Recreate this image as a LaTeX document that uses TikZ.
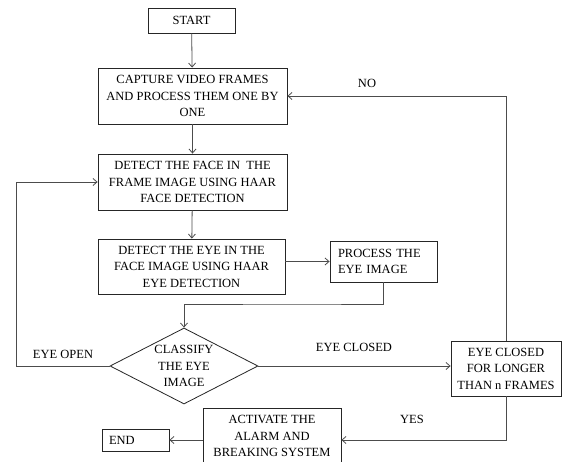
\documentclass[tikz,border=0pt]{standalone}
\usepackage{fontspec}
\setmainfont{Liberation Serif}
\usetikzlibrary{arrows.meta,shapes.geometric}
\begin{document}
\begin{tikzpicture}[x=1pt,y=-1pt,
  every node/.style={font=\fontsize{12.5}{16.5}\selectfont, text=black},
  box/.style={draw=black!85, line width=0.8pt, rectangle, inner sep=0pt, align=center},
  conn/.style={draw=black!70, line width=0.8pt, -{Straight Barb[length=4pt,width=7pt]}},
  lbl/.style={inner sep=0pt}
]
\useasboundingbox (0,0) rectangle (562,462);
\fill[white] (0,0) rectangle (562,462);

\node[box, minimum width=87pt, minimum height=25pt] (start) at (191.5,20.5) {START};
\node[box, minimum width=189pt, minimum height=56pt] (capture) at (192.5,96) {CAPTURE VIDEO FRAMES\\AND PROCESS THEM ONE BY\\ONE};
\node[box, minimum width=189pt, minimum height=56pt] (face) at (192.5,182) {DETECT THE FACE IN \ THE\\FRAME IMAGE USING HAAR\\FACE DETECTION};
\node[box, minimum width=187pt, minimum height=55pt] (eye) at (191.5,266.5) {DETECT THE EYE IN THE\\FACE IMAGE USING HAAR\\EYE DETECTION};
\node[box, minimum height=41pt, text width=91pt, inner xsep=8pt, align=left] (process) at (383.5,261.5) {PROCESS THE\\EYE IMAGE};
\node[draw=black!85, line width=0.8pt, shape=diamond, aspect=1.95, minimum width=148pt, minimum height=76pt, inner sep=0pt, align=center] (classify) at (184,366) {CLASSIFY\\THE EYE\\IMAGE};
\node[box, minimum width=110pt, minimum height=55pt] (closed) at (506,368.5) {EYE CLOSED\\FOR LONGER\\THAN n FRAMES};
\node[box, minimum width=138pt, minimum height=56pt] (alarm) at (272,436) {ACTIVATE THE\\ALARM AND\\BREAKING SYSTEM};
\node[box, minimum height=22pt, text width=53pt, inner xsep=7pt, align=left] (endn) at (135.5,440) {END};

\coordinate (loopL) at (16,366);
\coordinate (bendP) at (300,304);

\draw[conn] (start) -- (capture);
\draw[conn] (capture) -- (face);
\draw[conn] (face) -- (eye);
\draw[conn] (process.west -| eye.east) -- (process.west);
\draw[conn] (process.south) |- (bendP) -| (classify.north);
\draw[conn] (classify.west) -- (loopL) |- (face.west);
\draw[conn] (classify.east) -- (classify.east -| closed.west);
\draw[conn] (closed.north) |- (capture.east);
\draw[conn] (closed.south) |- (endn.east -| alarm.east);
\draw[conn] (endn.east -| alarm.west) -- (endn.east);

\node[lbl] (lno) at (367,83) {NO};
\node[lbl] (lopen) at (63,354) {EYE OPEN};
\node[lbl] (lclosed) at (354,347) {EYE CLOSED};
\node[lbl] (lyes) at (412,419) {YES};
\end{tikzpicture}
\end{document}
